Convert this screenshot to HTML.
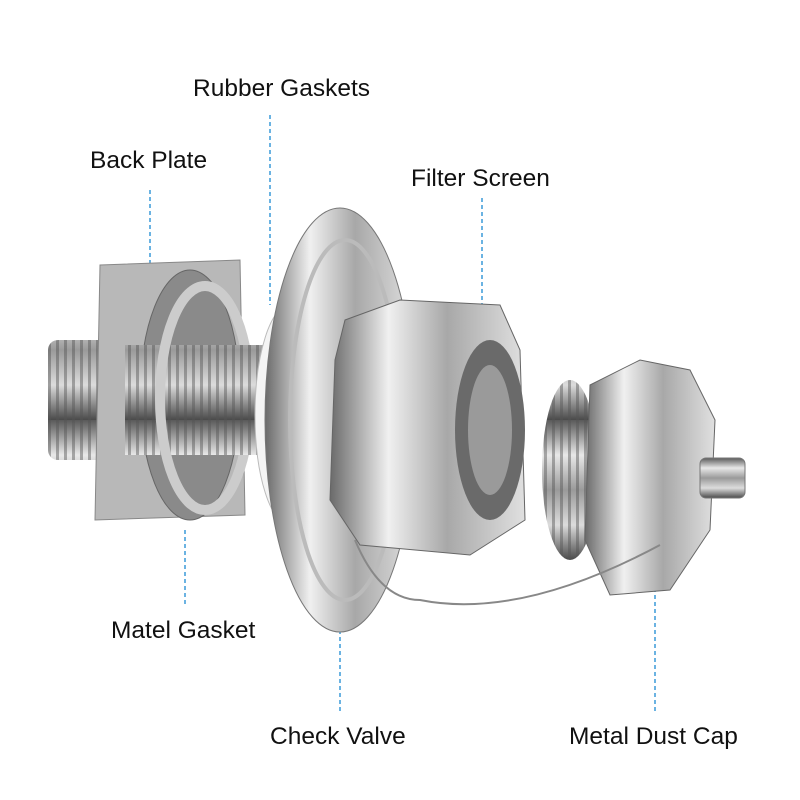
<!DOCTYPE html>
<html><head><meta charset="utf-8"><style>
html,body{margin:0;padding:0;background:#fff;}
.wrap{position:relative;width:800px;height:800px;overflow:hidden;}
.lbl{position:absolute;font-family:"Liberation Sans",sans-serif;font-size:24.5px;color:#111;white-space:nowrap;}
</style></head><body><div class="wrap">
<svg width="800" height="800" viewBox="0 0 800 800" style="position:absolute;left:0;top:0">
<defs>
<linearGradient id="mv" x1="0" y1="0" x2="0" y2="1">
<stop offset="0" stop-color="#5a5a5a"/><stop offset="0.25" stop-color="#e8e8e8"/><stop offset="0.5" stop-color="#9a9a9a"/><stop offset="0.75" stop-color="#dcdcdc"/><stop offset="1" stop-color="#4a4a4a"/></linearGradient>
<linearGradient id="mh" x1="0" y1="0" x2="1" y2="0">
<stop offset="0" stop-color="#6a6a6a"/><stop offset="0.3" stop-color="#f0f0f0"/><stop offset="0.6" stop-color="#a8a8a8"/><stop offset="1" stop-color="#e0e0e0"/></linearGradient>
<pattern id="thr" width="8" height="140" patternUnits="userSpaceOnUse"><rect width="8" height="140" fill="url(#mv)"/><rect width="3" height="140" fill="#555" opacity="0.45"/></pattern>
</defs>
<g stroke="#3a9ad9" stroke-width="1.5" stroke-dasharray="4,3" fill="none">
<line x1="270" y1="115" x2="270" y2="305"/>
<line x1="150" y1="190" x2="150" y2="270"/>
<line x1="482" y1="198" x2="482" y2="410"/>
<line x1="185" y1="530" x2="185" y2="605"/>
<line x1="340" y1="560" x2="340" y2="712"/>
<line x1="655" y1="560" x2="655" y2="712"/>
</g>
<rect x="48" y="340" width="100" height="120" rx="10" fill="url(#thr)"/>
<path d="M100 265 L240 260 L245 515 L95 520 Z" fill="#b8b8b8" stroke="#888"/>
<ellipse cx="190" cy="395" rx="50" ry="125" fill="#8a8a8a" stroke="#666"/>
<rect x="125" y="345" width="130" height="110" fill="url(#thr)"/>
<ellipse cx="205" cy="398" rx="45" ry="112" fill="none" stroke="#ccc" stroke-width="10"/>
<rect x="210" y="345" width="70" height="110" fill="url(#thr)"/>
<ellipse cx="290" cy="415" rx="35" ry="110" fill="#f4f4f4" stroke="#bbb"/>
<ellipse cx="340" cy="420" rx="75" ry="212" fill="url(#mh)" stroke="#777"/>
<ellipse cx="345" cy="420" rx="55" ry="180" fill="none" stroke="#bbb" stroke-width="4"/>
<path d="M345 320 L400 300 L500 305 L520 350 L525 520 L470 555 L360 545 L330 500 L335 360 Z" fill="url(#mh)" stroke="#666"/>
<ellipse cx="490" cy="430" rx="35" ry="90" fill="#6a6a6a"/>
<ellipse cx="490" cy="430" rx="22" ry="65" fill="#9a9a9a"/>
<ellipse cx="570" cy="470" rx="28" ry="90" fill="url(#thr)"/>
<path d="M590 385 L640 360 L690 370 L715 420 L710 530 L670 590 L610 595 L585 540 Z" fill="url(#mh)" stroke="#666"/>
<rect x="700" y="458" width="45" height="40" rx="6" fill="url(#mv)" stroke="#777"/>
<path d="M355 540 Q380 600 420 600 Q520 620 660 545" fill="none" stroke="#888" stroke-width="2"/>
</svg>
<div class="lbl" style="left:193px;top:75px">Rubber Gaskets</div>
<div class="lbl" style="left:90px;top:147px">Back Plate</div>
<div class="lbl" style="left:411px;top:165px">Filter Screen</div>
<div class="lbl" style="left:111px;top:617px">Matel Gasket</div>
<div class="lbl" style="left:270px;top:723px">Check Valve</div>
<div class="lbl" style="left:569px;top:723px">Metal Dust Cap</div>
</div></body></html>
